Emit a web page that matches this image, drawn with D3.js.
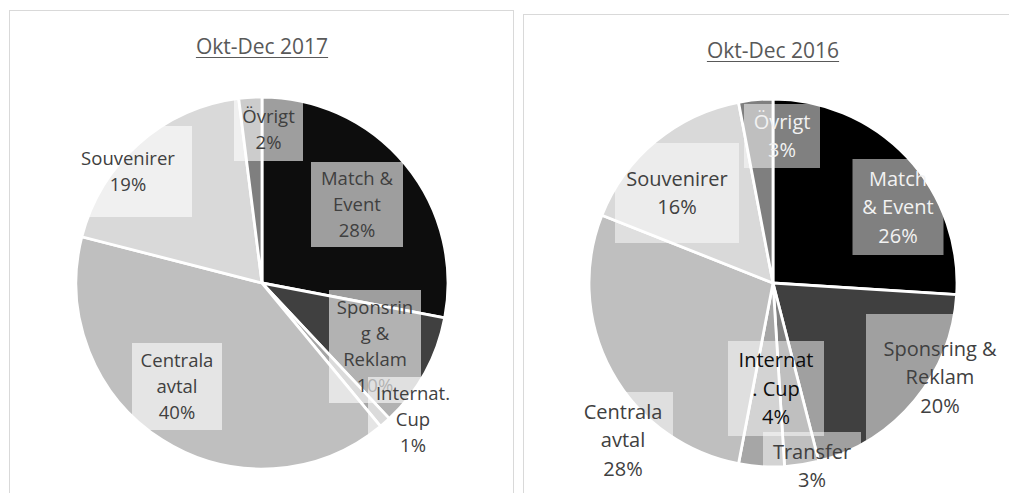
<!DOCTYPE html>
<html>
<head>
<meta charset="utf-8">
<script src="https://cdn.jsdelivr.net/npm/d3@7"></script>
<style>
  body { margin: 0; background: #fff; }
  svg { display: block; font-family: "Open Sans", sans-serif; }
</style>
</head>
<body>
<svg id="chart" width="1009" height="493"></svg>
<script>
// data (percent of revenue)
var categories2017 = ["Match & Event", "Sponsring & Reklam", "Internat. Cup", "Centrala avtal", "Souvenirer", "Övrigt"];
var values2017 = [28, 10, 1, 40, 19, 2];
var labelLines2017 = [["Match &", "Event"], ["Sponsrin", "g &", "Reklam"], ["Internat.", "Cup"], ["Centrala", "avtal"], ["Souvenirer"], ["Övrigt"]];

var categories2016 = ["Match & Event", "Sponsring & Reklam", "Transfer", "Internat. Cup", "Centrala avtal", "Souvenirer", "Övrigt"];
var values2016 = [26, 20, 3, 4, 28, 16, 3];
var labelLines2016 = [["Match", "& Event"], ["Sponsring &", "Reklam"], ["Transfer"], ["Internat", ". Cup"], ["Centrala", "avtal"], ["Souvenirer"], ["Övrigt"]];

// styling / layout (not data)
var shades2017 = ["#0d0d0d", "#404040", "#a6a6a6", "#bfbfbf", "#d9d9d9", "#7f7f7f"];
var shades2016 = ["#000000", "#404040", "#7f7f7f", "#a6a6a6", "#bfbfbf", "#d9d9d9", "#7f7f7f"];

// label boxes: [dx, dy, w, h] of the box centre from the pie centre
var boxes2017 = [[95, -78.5, 92, 85], [113, 63.5, 92, 113], [151, 136.5, 90, 85], [-85, 103.5, 90, 87], [-134, -111.5, 128, 91], [6.5, -153.5, 69, 63]];
var boxes2016 = [[125, -76, 91, 96], [167, 94, 148, 126], [39, 183, 98, 68], [3, 105.5, 96, 95], [-150, 157, 100, 96], [-96, -90, 124, 100], [9, -147, 76, 64]];
var textColors2016 = ["#f2f2f2", "#404040", "#404040", "#0d0d0d", "#404040", "#404040", "#f2f2f2"];

var svg = d3.select("#chart");

// panel frames
svg.append("rect").attr("x", 9.5).attr("y", 10.5).attr("width", 504).attr("height", 500)
    .attr("fill", "none").attr("stroke", "#d9d9d9");
svg.append("rect").attr("x", 523.5).attr("y", 14.5).attr("width", 500).attr("height", 500)
    .attr("fill", "none").attr("stroke", "#d9d9d9");

function drawPie(opt) {
    var g = svg.append("g").attr("transform", "translate(" + opt.cx + "," + opt.cy + ")");

    var rows = opt.categories.map(function (c, i) {
        return { name: c, value: opt.values[i], lines: opt.lines[i], color: opt.shades[i], box: opt.boxes[i], i: i };
    });

    var pie = d3.pie().sort(null).value(function (d) { return d.value; });
    var arc = d3.arc().innerRadius(0).outerRadius(opt.r);
    var arcs = pie(rows);

    g.selectAll("path.slice")
        .data(arcs)
        .join("path")
        .attr("class", "slice")
        .attr("d", arc)
        .attr("fill", function (d) { return d.data.color; })
        .attr("stroke", "#fff")
        .attr("stroke-width", 2.8)
        .attr("stroke-linejoin", "miter");

    // title with underline
    var title = svg.append("text")
        .attr("x", opt.cx)
        .attr("y", opt.titleY)
        .attr("text-anchor", "middle")
        .style("font-size", "21px")
        .attr("fill", "#595959")
        .text(opt.title);
    var tw = title.node().getComputedTextLength();
    svg.append("line")
        .attr("x1", opt.cx - tw / 2).attr("x2", opt.cx + tw / 2)
        .attr("y1", opt.titleY + 3.5).attr("y2", opt.titleY + 3.5)
        .attr("stroke", "#595959").attr("stroke-width", 1.2);

    // data labels, drawn in series order so later boxes veil earlier text
    arcs.forEach(function (a) {
        var d = a.data;
        var bx = d.box[0], by = d.box[1], bw = d.box[2], bh = d.box[3];
        var lab = g.append("g");
        lab.append("rect")
            .attr("x", bx - bw / 2).attr("y", by - bh / 2)
            .attr("width", bw).attr("height", bh)
            .attr("fill", "#fff")
            .attr("fill-opacity", opt.boxOpacity);
        var lines = d.lines.concat([d3.format(".0f")(d.value) + "%"]);
        var n = lines.length;
        var t = lab.append("text")
            .attr("text-anchor", "middle")
            .style("font-size", opt.fontSize + "px")
            .attr("fill", opt.textColors ? opt.textColors[d.i] : "#404040");
        lines.forEach(function (s, k) {
            t.append("tspan")
                .attr("x", bx)
                .attr("y", by + (k - (n - 1) / 2) * opt.lineH + 0.36 * opt.fontSize)
                .text(s);
        });
    });
}

drawPie({
    cx: 262, cy: 283, r: 186, title: "Okt-Dec 2017", titleY: 54,
    categories: categories2017, values: values2017, lines: labelLines2017,
    shades: shades2017, boxes: boxes2017, fontSize: 18.5, lineH: 26, boxOpacity: 0.6
});

drawPie({
    cx: 773, cy: 283, r: 184, title: "Okt-Dec 2016", titleY: 58,
    categories: categories2016, values: values2016, lines: labelLines2016,
    shades: shades2016, boxes: boxes2016, fontSize: 20, lineH: 28.5, boxOpacity: 0.5,
    textColors: textColors2016
});
</script>
</body>
</html>
